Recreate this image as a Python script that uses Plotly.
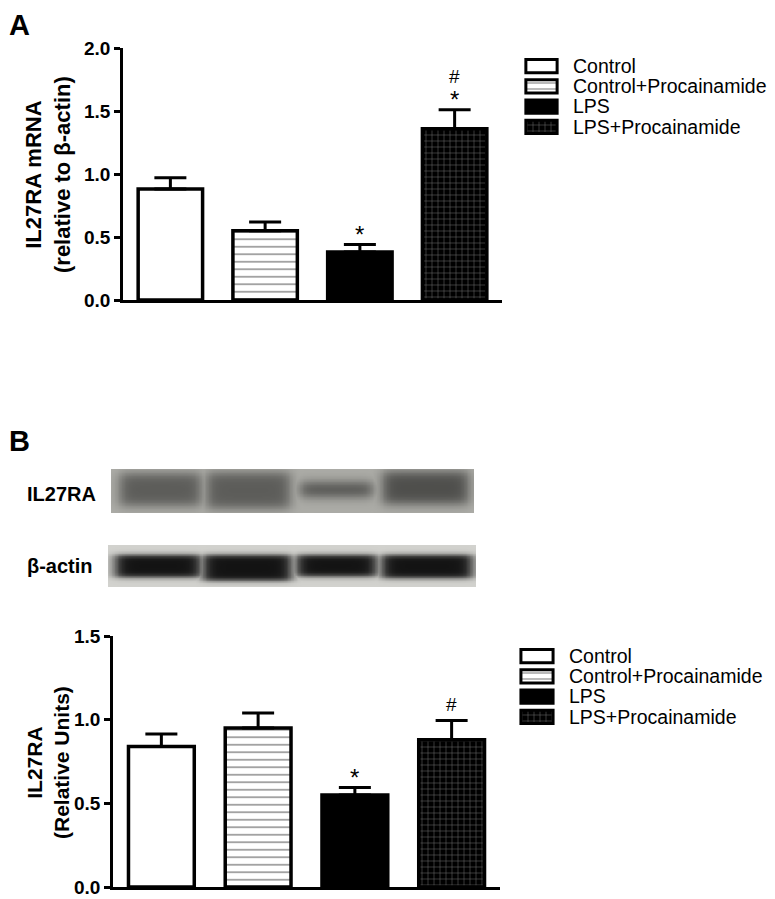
import numpy as np
import plotly.graph_objects as go

# ── Data ─────────────────────────────────────────────────────
groups = ["Control", "Control+Procainamide", "LPS", "LPS+Procainamide"]

mrna_mean = [0.88, 0.55, 0.38, 1.36]
mrna_sem = [0.09, 0.07, 0.06, 0.15]
mrna_sig = [[], [], ["*"], ["*", "#"]]   # bottom-up

prot_mean = [0.84, 0.95, 0.55, 0.88]
prot_sem = [0.075, 0.09, 0.045, 0.115]
prot_sig = [[], [], ["*"], ["#"]]

# blot lanes: centre, half-width (fraction of strip), band top/bottom (fraction from top), darkness
lane_centre = [0.135, 0.377, 0.620, 0.865]
il27_halfw = [0.112, 0.115, 0.100, 0.118]
il27_top = [0.10, 0.08, 0.30, 0.06]
il27_bot = [0.82, 0.88, 0.62, 0.78]
il27_dark = [0.68, 0.68, 0.78, 0.80]
actin_halfw = [0.117, 0.121, 0.110, 0.124]
actin_top = [0.23, 0.23, 0.23, 0.23]
actin_bot = [0.76, 0.84, 0.74, 0.78]
actin_dark = [1.0, 1.0, 1.0, 1.0]

FONT = "Arial, Liberation Sans, sans-serif"
OFF = 8                      # page body margin
W, H = 775 - OFF, 899 - OFF  # figure size inside the window

STYLE = {
    "Control": dict(color="white", pattern=dict(shape="")),
    "Control+Procainamide": dict(color="white", pattern=dict(shape="-", fgcolor="black", bgcolor="white",
                                                             size=7.5, solidity=0.18)),
    "LPS": dict(color="black", pattern=dict(shape="")),
    "LPS+Procainamide": dict(color="black", pattern=dict(shape="+", fgcolor="white", bgcolor="black",
                                                         size=6, solidity=0.14)),
}
# significance glyphs: font size, vertical centre of glyph within its box (fraction of size)
SIG = {"*": (24, 0.88), "#": (19, 0.65)}


def px_x(a, b):
    return [(a - OFF) / W, (b - OFF) / W]


def px_y(top, bottom):
    return [1 - (bottom - OFF) / H, 1 - (top - OFF) / H]


fig = go.Figure()


def add_bars(means, sems, sigs, xa, ya):
    for i, g in enumerate(groups):
        st = STYLE[g]
        fig.add_trace(go.Bar(
            x=[i], y=[means[i]], width=0.68, name=g,
            xaxis=xa, yaxis=ya, showlegend=False,
            marker=dict(color=st["color"], pattern=st["pattern"],
                        line=dict(color="black", width=3.5)),
            error_y=dict(type="data", symmetric=False, array=[sems[i]], arrayminus=[0],
                         color="black", thickness=3, width=16),
        ))
        for k, s in enumerate(sigs[i]):
            size, mid = SIG[s]
            fig.add_annotation(x=i, y=means[i] + sems[i], xref=xa, yref=ya,
                               text=s, showarrow=False, yanchor="bottom",
                               yshift=16 + 17 * k - mid * size,
                               font=dict(size=size, color="black", family=FONT))


def add_key(xa, ya):
    # legend key drawn as a tiny horizontal bar chart, labels are the axis tick labels
    for g in groups:
        st = STYLE[g]
        pat = dict(st["pattern"])
        if pat.get("shape") == "-":
            pat["size"] = 6
        fig.add_trace(go.Bar(
            x=[1], y=[g], base=0, orientation="h", width=0.66, xaxis=xa, yaxis=ya,
            showlegend=False, hoverinfo="skip",
            marker=dict(color=st["color"], pattern=pat, line=dict(color="black", width=3)),
        ))


add_bars(mrna_mean, mrna_sem, mrna_sig, "x", "y")
add_bars(prot_mean, prot_sem, prot_sig, "x2", "y2")
add_key("x5", "y5")
add_key("x6", "y6")


def blot(halfw, top, bot, dark, xa, ya, c0, c1, soft):
    xs = np.linspace(0, 1, 260)
    ys = np.linspace(0, 1, 60)
    X, Y = np.meshgrid(xs, ys)
    z = np.zeros_like(X)
    for c, hw, t, b, d in zip(lane_centre, halfw, top, bot, dark):
        sx = 1 / (1 + np.exp((np.abs(X - c) - hw) / 0.010))
        sy = 1 / (1 + np.exp((t - Y) / soft)) * 1 / (1 + np.exp((Y - b) / soft))
        z = np.maximum(z, d * sx * sy)
    fig.add_trace(go.Heatmap(
        z=z, x=xs, y=ys, xaxis=xa, yaxis=ya, zmin=0, zmax=1,
        colorscale=[[0, c0], [1, c1]], showscale=False, zsmooth="best", hoverinfo="skip",
    ))


blot(il27_halfw, il27_top, il27_bot, il27_dark, "x3", "y3", "#acaca7", "#363634", 0.07)
blot(actin_halfw, actin_top, actin_bot, actin_dark, "x4", "y4", "#d2d2ce", "#131313", 0.035)

tickfont = dict(size=19, family=FONT, color="black", weight="bold")
yax = dict(showline=True, linecolor="black", linewidth=2.5, ticks="outside", ticklen=6,
           tickwidth=2.5, tickcolor="black", dtick=0.5, tickformat=".1f", showgrid=False,
           zeroline=False, tickfont=tickfont, ticklabeloverflow="allow")
xax = dict(showline=True, linecolor="black", linewidth=2.5, showticklabels=False, ticks="",
           showgrid=False, zeroline=False, range=[-0.5, 3.5], fixedrange=True)
hid = dict(visible=False, range=[0, 1], fixedrange=True)
keyx = dict(visible=False, range=[-0.06, 1.06], fixedrange=True)
keyy = dict(type="category", categoryorder="array", categoryarray=groups, autorange="reversed",
            tickmode="array", tickvals=groups, ticktext=groups,
            side="right", showline=False, showgrid=False, zeroline=False, ticks="",
            ticklabelstandoff=13, fixedrange=True, ticklabeloverflow="allow",
            tickfont=dict(size=19.5, family=FONT, color="black"))

fig.update_layout(
    width=W, height=H, margin=dict(l=0, r=0, t=0, b=0, autoexpand=False),
    paper_bgcolor="white", plot_bgcolor="white", barmode="overlay", showlegend=False,
    font=dict(family=FONT, color="black"),
    xaxis=dict(domain=px_x(123, 502), **xax),
    yaxis=dict(domain=px_y(48, 300), range=[0, 2.0], anchor="x", **yax),
    xaxis2=dict(domain=px_x(113, 500), anchor="y2", **xax),
    yaxis2=dict(domain=px_y(636, 887), range=[0, 1.5], anchor="x2", **yax),
    xaxis3=dict(domain=px_x(111, 474), anchor="y3", **hid),
    yaxis3=dict(domain=px_y(469, 513), anchor="x3", visible=False, range=[1, 0], fixedrange=True),
    xaxis4=dict(domain=px_x(108, 476), anchor="y4", **hid),
    yaxis4=dict(domain=px_y(545, 587), anchor="x4", visible=False, range=[1, 0], fixedrange=True),
    xaxis5=dict(domain=px_x(524, 559), anchor="y5", **keyx),
    yaxis5=dict(domain=px_y(56, 137), anchor="x5", **keyy),
    xaxis6=dict(domain=px_x(519, 555), anchor="y6", **keyx),
    yaxis6=dict(domain=px_y(646, 727), anchor="x6", **keyy),
)

# y-axis titles (rotated)
for txt, x, y, sz in [("IL27RA mRNA<br>(relative to β-actin)", 48, 175, 22),
                      ("IL27RA<br>(Relative Units)", 48, 763, 21)]:
    fig.add_annotation(x=(x - OFF) / W, y=1 - (y - OFF) / H, xref="paper", yref="paper",
                       text=f"<b>{txt}</b>", textangle=-90, showarrow=False,
                       xanchor="center", yanchor="middle",
                       font=dict(size=sz, family=FONT, color="black"))

for txt, x, y, sz, anchor in [("A", 8, 0, 29, "top"), ("B", 8, 424, 29, "top"),
                              ("IL27RA", 26, 494, 20, "middle"), ("β-actin", 26, 566, 20, "middle")]:
    fig.add_annotation(x=(x - OFF) / W, y=1 - max(y - OFF, 0) / H, xref="paper", yref="paper",
                       text=f"<b>{txt}</b>", showarrow=False, xanchor="left", yanchor=anchor,
                       borderpad=0, font=dict(size=sz, family=FONT, color="black"))

fig.write_html("out.html")
